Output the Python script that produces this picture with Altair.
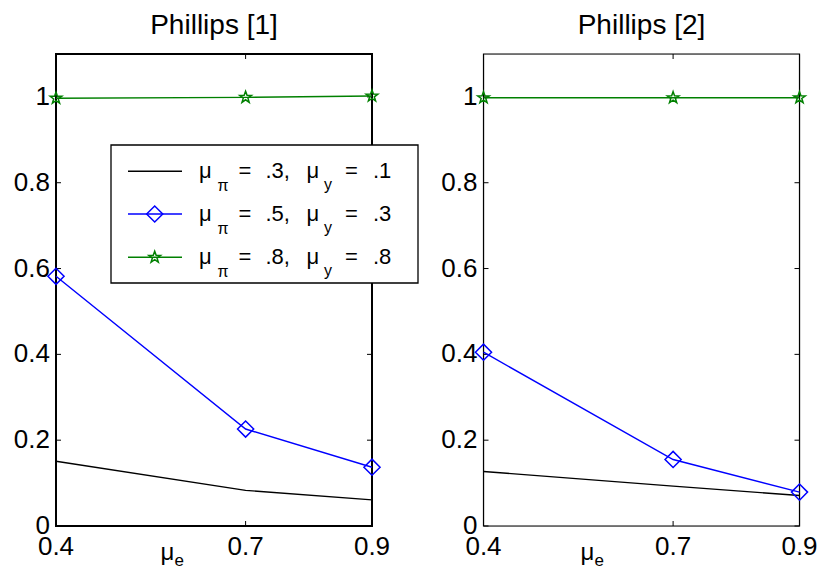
import altair as alt
import pandas as pd

FONT = "Liberation Sans"

# ---------------- data ----------------
x_vals = [0.4, 0.7, 0.9]
panel_titles = ["Phillips [1]", "Phillips [2]"]
series_names = ["s1", "s2", "s3"]
series_colors = ["#000000", "#0000ff", "#008000"]
p1_black = [0.151, 0.083, 0.061]
p1_blue = [0.582, 0.226, 0.137]
p1_green = [0.997, 0.999, 1.002]
p2_black = [0.127, 0.093, 0.071]
p2_blue = [0.405, 0.155, 0.079]
p2_green = [0.998, 0.998, 0.998]
y_ticks = [0, 0.2, 0.4, 0.6, 0.8, 1.0]
y_tick_labels = ["0", "0.2", "0.4", "0.6", "0.8", "1"]
x_ticks = [0.4, 0.7, 0.9]
x_tick_labels = ["0.4", "0.7", "0.9"]
leg_mu_pi = [".3", ".5", ".8"]
leg_mu_y = [".1", ".3", ".8"]

# ---------------- layout / style ----------------
W, H = 316, 472
STAR = ("M0,-1L0.235,-0.324L0.951,-0.309L0.380,0.124L0.588,0.809L0,0.4"
        "L-0.588,0.809L-0.380,0.124L-0.951,-0.309L-0.235,-0.324Z")
TICK_FS = 26
XS = alt.Scale(domain=[0.4, 0.9], nice=False, zero=False)
YS = alt.Scale(domain=[0, 1.1], nice=False, zero=False)


def one():
    return pd.DataFrame({"k": [0]})


def txt(s, x, y, size, align="left"):
    return alt.Chart(one()).mark_text(
        text=s, align=align, baseline="alphabetic", font=FONT,
        fontSize=size, color="black"
    ).encode(x=alt.value(x), y=alt.value(y))


def legend_layers():
    layers = []
    layers.append(alt.Chart(one()).mark_rect(
        fill="white", stroke="black", strokeWidth=1.3
    ).encode(x=alt.value(55), x2=alt.value(362), y=alt.value(91), y2=alt.value(229)))
    row_y = [117.3, 160.0, 203.3]
    for i, ly in enumerate(row_y):
        layers.append(alt.Chart(one()).mark_rule(
            color=series_colors[i], strokeWidth=1.4
        ).encode(x=alt.value(72), x2=alt.value(126), y=alt.value(ly)))
        if i == 1:
            layers.append(alt.Chart(one()).mark_point(
                shape="diamond", size=260, filled=False, strokeWidth=1.5,
                color=series_colors[i], opacity=1
            ).encode(x=alt.value(98.7), y=alt.value(ly)))
        if i == 2:
            layers.append(alt.Chart(one()).mark_point(
                shape=STAR, size=150, filled=False, strokeWidth=1.5,
                color=series_colors[i], opacity=1
            ).encode(x=alt.value(98.7), y=alt.value(ly)))
        by = ly + 6.5
        layers += [
            txt("\u03bc", 143, by, 22),
            txt("\u03c0", 161.5, by + 13.5, 16),
            txt("=", 182.5, by, 22),
            txt(leg_mu_pi[i] + ",", 209.5, by, 22),
            txt("\u03bc", 250.5, by, 22),
            txt("y", 268, by + 12.5, 16),
            txt("=", 289, by, 22),
            txt(leg_mu_y[i], 317, by, 22),
        ]
    return layers


def panel(black, blue, green, title, frame_w, xlab_x, with_legend):
    rows = []
    for name, vals in zip(series_names, [black, blue, green]):
        for xv, yv in zip(x_vals, vals):
            rows.append({"series": name, "x": xv, "y": yv})
    df = pd.DataFrame(rows)
    color = alt.Color("series:N",
                      scale=alt.Scale(domain=series_names, range=series_colors),
                      legend=None)
    base = alt.Chart(df)
    frame = alt.Chart(one()).mark_rect(
        fill="white", fillOpacity=0, stroke="black", strokeWidth=frame_w
    ).encode(x=alt.value(0), x2=alt.value(W), y=alt.value(0), y2=alt.value(H))
    lines = base.mark_line(strokeWidth=1.4).encode(
        x=alt.X("x:Q", scale=XS, axis=None),
        y=alt.Y("y:Q", scale=YS, axis=None),
        color=color,
    )
    diamonds = base.transform_filter(alt.datum.series == "s2").mark_point(
        shape="diamond", size=260, filled=False, strokeWidth=1.5,
        color="#0000ff", opacity=1
    ).encode(x=alt.X("x:Q", axis=None), y=alt.Y("y:Q", axis=None))
    stars = base.transform_filter(alt.datum.series == "s3").mark_point(
        shape=STAR, size=150, filled=False, strokeWidth=1.5,
        color="#008000", opacity=1
    ).encode(x=alt.X("x:Q", axis=None), y=alt.Y("y:Q", axis=None))
    yt = pd.DataFrame({"t": y_ticks, "lab": y_tick_labels})
    xt = pd.DataFrame({"t": x_ticks, "lab": x_tick_labels})
    lt = alt.Chart(yt).mark_rule(color="black", strokeWidth=1).encode(
        y=alt.Y("t:Q", axis=None), x=alt.value(0), x2=alt.value(5))
    rt = alt.Chart(yt).mark_rule(color="black", strokeWidth=1).encode(
        y=alt.Y("t:Q", axis=None), x=alt.value(W - 5), x2=alt.value(W))
    bt = alt.Chart(xt).mark_rule(color="black", strokeWidth=1).encode(
        x=alt.X("t:Q", axis=None), y=alt.value(H - 5), y2=alt.value(H))
    tt = alt.Chart(xt).mark_rule(color="black", strokeWidth=1).encode(
        x=alt.X("t:Q", axis=None), y=alt.value(0), y2=alt.value(5))
    ylabels = alt.Chart(yt).mark_text(
        align="right", baseline="middle", font=FONT, fontSize=TICK_FS, color="black"
    ).encode(y=alt.Y("t:Q", axis=None), x=alt.value(-6), text="lab:N")
    xlabels = alt.Chart(xt).mark_text(
        align="center", baseline="alphabetic", font=FONT, fontSize=TICK_FS, color="black"
    ).encode(x=alt.X("t:Q", axis=None), y=alt.value(H + 29), text="lab:N")
    ttl = txt(title, W / 2, -20, 28, align="center")
    xlab = [txt("\u03bc", xlab_x, H + 34, 24), txt("e", xlab_x + 14, H + 40, 17)]
    layers = [frame, lt, rt, bt, tt, lines, diamonds, stars,
              ylabels, xlabels, ttl] + xlab
    if with_legend:
        layers += legend_layers()
    return alt.layer(*layers).properties(width=W, height=H)


left = panel(p1_black, p1_blue, p1_green, panel_titles[0], 2.0, 104.5, True)
right = panel(p2_black, p2_blue, p2_green, panel_titles[1], 1.2, 97, False)

chart = alt.hconcat(left, right, spacing=20.5).properties(
    padding={"left": 5, "top": 3, "right": 0, "bottom": 0}
).configure_view(strokeWidth=0).configure(background="white")

chart.save("out.html", embed_options={"renderer": "svg", "actions": False})
